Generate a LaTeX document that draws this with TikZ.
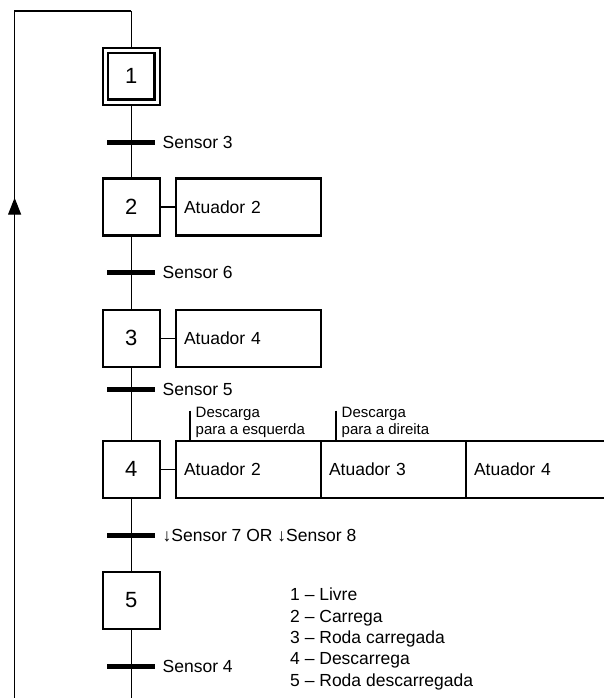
\documentclass[tikz,border=0pt]{standalone}
\usepackage{fontspec}
\setmainfont{Liberation Sans}
\usetikzlibrary{arrows.meta}
\begin{document}
\begin{tikzpicture}[x=1pt,y=-1pt,
  link/.style={line width=1.3pt},
  stepbox/.style={draw,line width=2.2pt,fill=white,minimum size=57pt,inner sep=0pt,font=\fontsize{22}{26}\selectfont},
  initouter/.style={draw,line width=2.2pt,fill=white,minimum size=57.3pt,inner sep=0pt},
  initinner/.style={draw,line width=2.2pt,minimum size=46.3pt,inner sep=0pt,font=\fontsize{22}{26}\selectfont},
  actbox/.style={draw,line width=2.2pt,fill=white,outer sep=0pt,minimum height=57pt,text width=129pt,inner xsep=8pt,inner ysep=0pt,align=left,font=\fontsize{17.5}{21}\selectfont},
  bar/.style={fill=black,minimum width=48pt,minimum height=5pt,inner sep=0pt},
  cond/.style={anchor=base west,inner sep=0pt,font=\fontsize{17.5}{21}\selectfont},
  legendtxt/.style={anchor=base west,inner sep=0pt,font=\fontsize{17.5}{21}\selectfont},
  note/.style={anchor=south west,inner sep=0pt,align=left,font=\fontsize{15}{17.3}\selectfont},
  tick/.style={line width=1.2pt},
]
\useasboundingbox (0,0) rectangle (603,698);

% frame coordinates of the return loop
\coordinate (topR) at (131.3,11);
\coordinate (topL) at (14.6,11);
\coordinate (botL) at (14.6,698);
\coordinate (botR) at (131.3,698);
\coordinate (arrtip) at (14.6,197.7);

% steps
\node[initouter] (s1) at (131.3,76.3) {};
\node[initinner] (s1i) at (131.3,76.3) {1};
\node[stepbox] (s2) at (131.3,207) {2};
\node[stepbox] (s3) at (131.3,338.3) {3};
\node[stepbox] (s4) at (131.3,469.2) {4};
\node[stepbox] (s5) at (131.3,600.5) {5};

% spine connectors
\draw[link] (topR) -- (s1.north);
\draw[link] (s1.south) -- (s2.north);
\draw[link] (s2.south) -- (s3.north);
\draw[link] (s3.south) -- (s4.north);
\draw[link] (s4.south) -- (s5.north);
\draw[link] (s5.south) -- (botR);

% return loop
\draw[link] (topR) -- (topL) -- (botL);
\draw[link,-{Triangle[width=13pt,length=17pt]}] (botL) -- (arrtip);

% transitions
\node[bar] (t1) at (131.3,142.5) {};
\node[bar] (t2) at (131.3,272.3) {};
\node[bar] (t3) at (131.3,389) {};
\node[bar] (t4) at (131.3,535) {};
\node[bar] (t5) at (131.3,666) {};

\node[cond] (c1) at (162.5,148.8) {Sensor 3};
\node[cond] (c2) at (162.5,278.6) {Sensor 6};
\node[cond] (c3) at (162.5,395.3) {Sensor 5};
\node[cond] (c4) at (162.5,541.3) {↓Sensor 7 OR ↓Sensor 8};
\node[cond] (c5) at (162.5,672.3) {Sensor 4};

% actions
\node[actbox,anchor=west] (a2) at (176,207) {Atuador 2};
\node[actbox,anchor=west] (a3) at (176,338.3) {Atuador 4};
\node[actbox,anchor=west] (a41) at (176,469.2) {Atuador 2};
\node[actbox,anchor=west] (a42) at (a41.east) {Atuador 3};
\node[actbox,anchor=west] (a43) at (a42.east) {Atuador 4};

\draw[link] (s2) -- (a2);
\draw[link] (s3) -- (a3);
\draw[link] (s4) -- (a41);

% qualifiers on step 4 actions
\coordinate (q1) at (190,410.7);
\coordinate (q2) at (336,410.7);
\draw[tick] (q1) -- (q1 |- a41.north);
\draw[tick] (q2) -- (q2 |- a42.north);
\node[note] (n1) at (195.5,438.3) {Descarga\\para a esquerda};
\node[note] (n2) at (341.5,438.3) {Descarga\\para a direita};

% legend
\node[legendtxt] (l1) at (290,600.7) {1 – Livre};
\node[legendtxt] (l2) at (290,622.2) {2 – Carrega};
\node[legendtxt] (l3) at (290,643.5) {3 – Roda carregada};
\node[legendtxt] (l4) at (290,664.8) {4 – Descarrega};
\node[legendtxt] (l5) at (290,686.1) {5 – Roda descarregada};
\end{tikzpicture}
\end{document}
